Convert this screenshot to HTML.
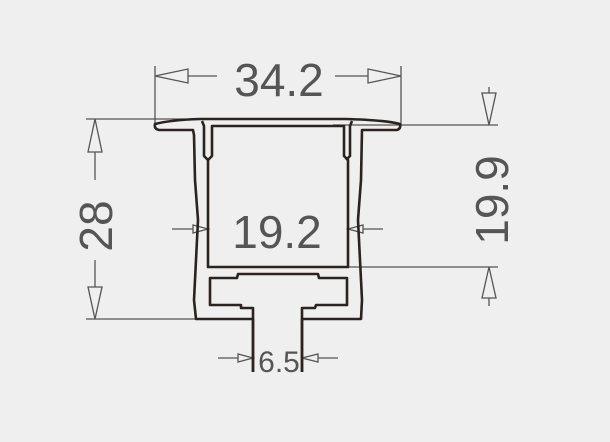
<!DOCTYPE html>
<html><head><meta charset="utf-8"><style>
html,body{margin:0;padding:0;background:#efefef;}
svg{display:block;}
text{font-family:"Liberation Sans",sans-serif;fill:#555;}
</style></head><body>
<svg width="610" height="442" viewBox="0 0 610 442" xmlns="http://www.w3.org/2000/svg">
<rect width="610" height="442" fill="#efefef"/>
<g stroke="#555" stroke-width="1.3" fill="none">
  <line x1="155" y1="66" x2="155" y2="124"/>
  <line x1="401" y1="66" x2="401" y2="126"/>
  <line x1="188" y1="76" x2="217" y2="76"/>
  <line x1="335" y1="76" x2="368" y2="76"/>
  <polygon points="155,76 188,69 188,83" fill="#efefef"/>
  <polygon points="401,76 368,69 368,83" fill="#efefef"/>
  <line x1="86" y1="119" x2="200" y2="119"/>
  <line x1="86" y1="319" x2="196" y2="319"/>
  <line x1="95" y1="152" x2="95" y2="180"/>
  <line x1="95" y1="260" x2="95" y2="287"/>
  <polygon points="95,119 88,152 102,152" fill="#efefef"/>
  <polygon points="95,319 88,287 102,287" fill="#efefef"/>
  <line x1="333" y1="125" x2="498" y2="125"/>
  <line x1="333" y1="267" x2="498" y2="267"/>
  <line x1="489" y1="87" x2="489" y2="93"/>
  <line x1="489" y1="298" x2="489" y2="306"/>
  <polygon points="489,125 482,93 496,93" fill="#efefef"/>
  <polygon points="489,267 482,298 496,298" fill="#efefef"/>
  <line x1="172" y1="229" x2="193" y2="229"/>
  <polygon points="208,229 193,225 193,233" fill="#efefef"/>
  <line x1="363" y1="229" x2="383" y2="229"/>
  <polygon points="348,229 363,225 363,233" fill="#efefef"/>
  <line x1="218" y1="358" x2="238" y2="358"/>
  <polygon points="253,358 238,354 238,362" fill="#efefef"/>
  <line x1="318" y1="358" x2="338" y2="358"/>
  <polygon points="302,358 318,354 318,362" fill="#efefef"/>
</g>
<g stroke="#2a2320" stroke-width="2.6" fill="none" stroke-linejoin="round">
  <path d="M253,372 L253,319 L196,319 L194,300 L196,260 L198,220 L195,180 L194,135 L193,130 L159,130 Q154,129 155,124 Q170,120 200,119 L345,119 Q385,120 400,124 Q401,129 397,130 L362,130 L361,180 L358,220 L360,260 L362,300 L361,319 L302,319 L302,372"/>
  <path d="M208,267 L208,160 L212,156 L212,126 L344,126 L344,156 L348,160 L348,267 Z"/>
  <path d="M202,121 L204,126 L204,156 L208,160"/>
  <path d="M352,121 L350,126 L350,156 L346,160"/>
  <path d="M253,372 L253,308 L241,308 L241,305 L210,305 L210,278 L237,278 L238,274 L318,274 L319,278 L347,278 L347,305 L316,305 L315,308 L302,308 L302,372"/>
</g>
<text x="279" y="96" font-size="46" text-anchor="middle">34.2</text>
<text x="277" y="248" font-size="46" text-anchor="middle">19.2</text>
<text x="279" y="372" font-size="30" text-anchor="middle">6.5</text>
<text transform="translate(112,226) rotate(-90)" font-size="46" text-anchor="middle">28</text>
<text transform="translate(508,200) rotate(-90)" font-size="46" text-anchor="middle">19.9</text>
</svg>
</body></html>
